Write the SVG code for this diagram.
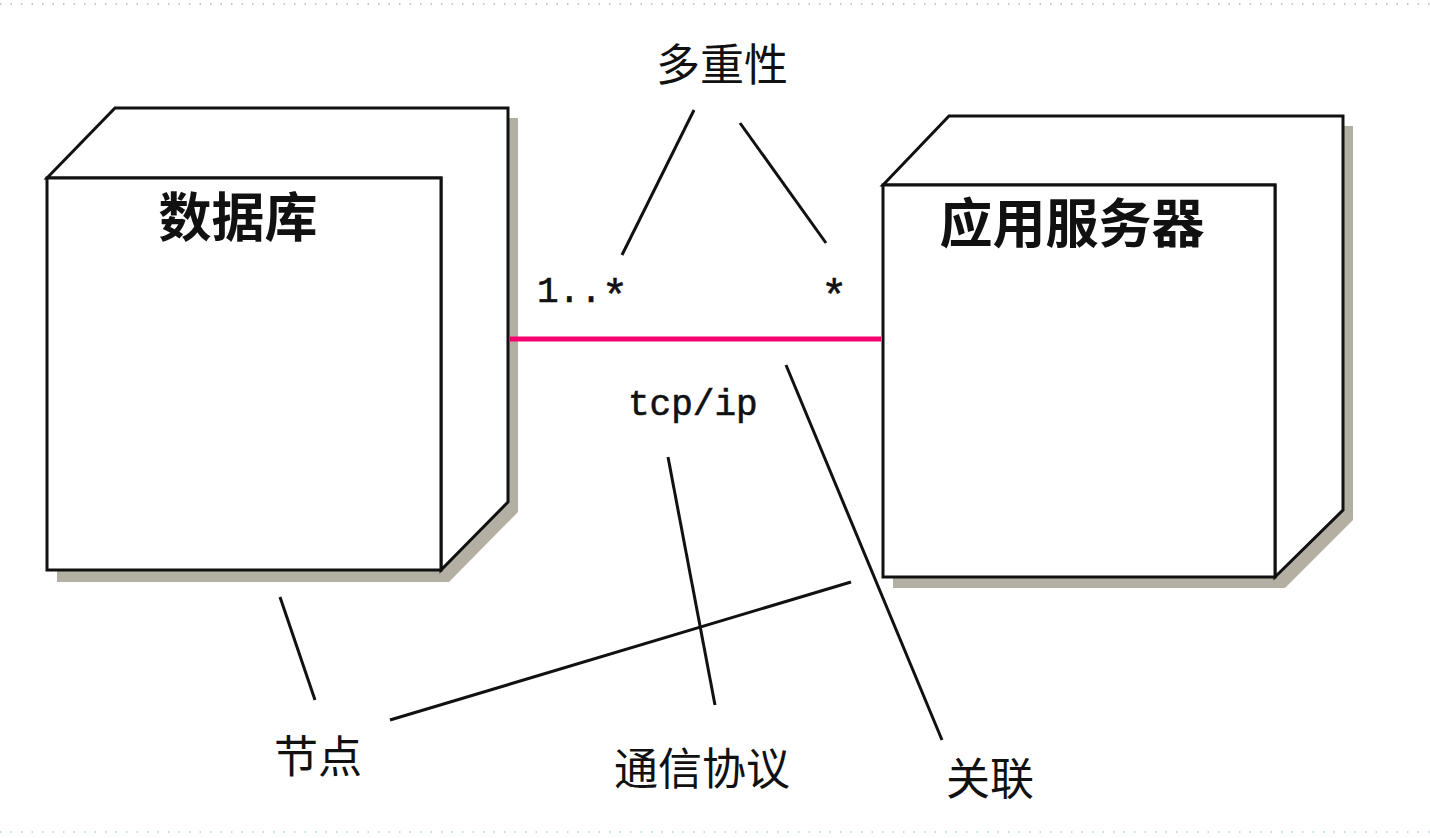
<svg xmlns="http://www.w3.org/2000/svg" width="1430" height="838" viewBox="0 0 1430 838">
<style>
.shadow{fill:#b3b0a3;stroke:none}
.face{fill:#fff;stroke:#111;stroke-width:3;stroke-linejoin:miter}
.title{font-family:"Noto Sans CJK SC","Noto Sans",sans-serif;font-weight:700;font-size:53px;fill:#111;text-anchor:middle}
.note{font-family:"Noto Sans CJK SC","Noto Sans",sans-serif;font-size:44px;fill:#111;text-anchor:middle}
.mono{font-family:"Liberation Mono","DejaVu Sans Mono",monospace;font-size:36px;fill:#111;stroke:#111;stroke-width:0.6}
.star{font-size:44px}
.lead{stroke:#111;stroke-width:3;fill:none}
.assoc{stroke:#f5006e;stroke-width:5;fill:none}
.dots{stroke-width:1.5;stroke-dasharray:1.5 9}
</style>
<rect width="1430" height="838" fill="#fff"/>
<line class="dots" x1="0" y1="4" x2="1430" y2="4" stroke="#b8b8b8"/>
<line class="dots" x1="0" y1="832" x2="1430" y2="832" stroke="#9fd8ea"/>

<g id="node-db">
<polygon class="shadow" points="57,188 125,118 518,118 518,512 449,582 57,582"/>
<polygon class="face" points="47,178 115,108 508,108 508,502 441,570 441,178"/>
<rect class="face" x="47" y="178" width="394" height="392"/>
<text class="title" x="238" y="237">数据库</text>
</g>

<g id="node-app">
<polygon class="shadow" points="893,195 959,126 1353,126 1353,520 1285,588 893,588"/>
<polygon class="face" points="883,185 949,116 1343,116 1343,510 1275,577 1275,185"/>
<rect class="face" x="883" y="185" width="392" height="392"/>
<text class="title" x="1072" y="243">应用服务器</text>
</g>

<g id="connectors">
<line class="assoc" x1="510" y1="339" x2="881" y2="339"/>
<line class="lead" x1="694" y1="110" x2="622" y2="255"/>
<line class="lead" x1="740" y1="123" x2="826" y2="243"/>
<line class="lead" x1="280" y1="597" x2="315" y2="700"/>
<line class="lead" x1="390" y1="720" x2="851" y2="582"/>
<line class="lead" x1="668" y1="457" x2="715" y2="705"/>
<line class="lead" x1="786" y1="365" x2="942" y2="740"/>
</g>

<g id="label-multiplicity">
<text class="note" x="722" y="81">多重性</text>
</g>
<g id="label-mult-db">
<text class="mono" x="537" y="302">1..<tspan class="star" dy="8">*</tspan></text>
</g>
<g id="label-mult-app">
<text class="mono star" x="821" y="310">*</text>
</g>
<g id="label-protocol">
<text class="mono" x="628" y="415">tcp/ip</text>
</g>
<g id="label-node">
<text class="note" x="318" y="773">节点</text>
</g>
<g id="label-comm">
<text class="note" x="702" y="785">通信协议</text>
</g>
<g id="label-assoc">
<text class="note" x="990" y="795">关联</text>
</g>
</svg>
